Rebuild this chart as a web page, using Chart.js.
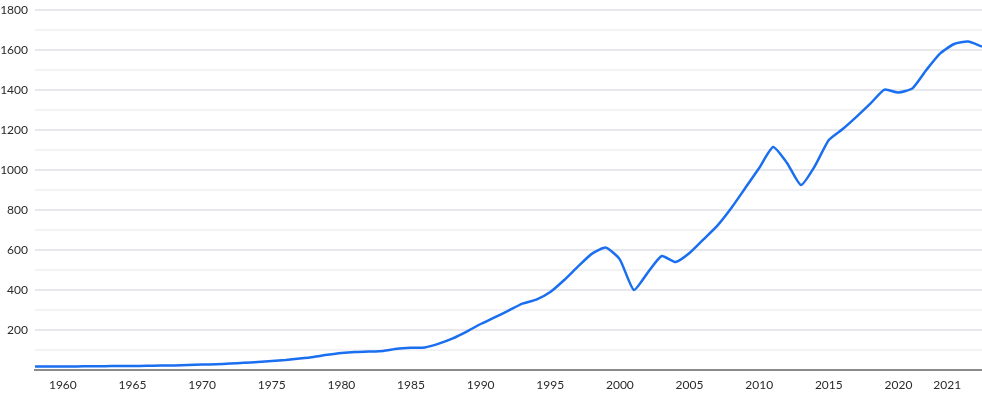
<!DOCTYPE html>
<html>
<head>
<meta charset="utf-8">
<script src="https://cdn.jsdelivr.net/npm/chart.js@4"></script>
<style>
    body { margin: 0; background: #fff; }
    #wrap { width: 982px; height: 395px; position: relative; }
</style>
</head>
<body>
<div id="wrap"><canvas id="graph"></canvas></div>
<script>
// yearly values
const years = [
    1958, 1959, 1960, 1961, 1962, 1963, 1964, 1965, 1966, 1967,
    1968, 1969, 1970, 1971, 1972, 1973, 1974, 1975, 1976, 1977,
    1978, 1979, 1980, 1981, 1982, 1983, 1984, 1985, 1986, 1987,
    1988, 1989, 1990, 1991, 1992, 1993, 1994, 1995, 1996, 1997,
    1998, 1999, 2000, 2001, 2002, 2003, 2004, 2005, 2006, 2007,
    2008, 2009, 2010, 2011, 2012, 2013, 2014, 2015, 2016, 2017,
    2018, 2019, 2020, 2021, 2022, 2023, 2024, 2025, 2026
]
const values = [
    17, 17, 18, 18, 19, 19, 20, 20, 21, 22,
    23, 25, 27, 29, 32, 36, 40, 45, 50, 57,
    65, 76, 85, 90, 92, 95, 106, 111, 113, 132,
    158, 192, 230, 263, 297, 332, 352, 390, 450, 518,
    582, 612, 552, 400, 487, 570, 540, 585, 653, 722,
    810, 910, 1010, 1115, 1035, 925, 1020, 1150, 1205, 1267,
    1333, 1402, 1387, 1408, 1500, 1583, 1630, 1642, 1617
]

// x axis labels as they appear under the chart
const xTickValues = [1960, 1965, 1970, 1975, 1980, 1985, 1990, 1995, 2000, 2005, 2010, 2015, 2020, 2023.5]
const xTickLabels = ['1960', '1965', '1970', '1975', '1980', '1985', '1990', '1995', '2000', '2005', '2010', '2015', '2020', '2021']

Chart.defaults.font.family = 'Lato, sans-serif'
Chart.defaults.font.size = 12
Chart.defaults.color = '#2a2a2a'

let points = years.map((y, i) => ({ x: y, y: values[i] }))

let ctx = document.getElementById('graph')
let chart = new Chart(ctx, {
    type: 'line',
    data: {
        datasets: [{
            data: points,
            borderColor: 'rgb(26, 110, 240)',
            borderWidth: 2.5,
            pointRadius: 0,
            tension: 0.18,
            fill: false
        }]
    },
    options: {
        responsive: true,
        maintainAspectRatio: false,
        animation: false,
        layout: { padding: 0 },
        scales: {
            x: {
                type: 'linear',
                min: years[0],
                max: years[years.length - 1],
                afterBuildTicks: scale => {
                    scale.ticks = xTickValues.map(v => ({ value: v }))
                },
                afterFit: scale => { scale.height = 25 },
                ticks: {
                    autoSkip: false,
                    maxRotation: 0,
                    padding: 8,
                    callback: (value, index) => xTickLabels[index]
                },
                grid: { display: false, drawTicks: false },
                border: { display: true, color: '#8a8a8a', width: 2 }
            },
            y: {
                min: 0,
                max: 1800,
                afterFit: scale => {
                    scale.width = 35
                    scale.paddingTop = 10 // top gridline sits 10px below the edge
                },
                ticks: {
                    stepSize: 100,
                    padding: 7,
                    callback: v => (v % 200 === 0 && v !== 0) ? v : ''
                },
                grid: {
                    drawTicks: false,
                    lineWidth: 2,
                    color: c => c.tick.value === 0 ? 'rgba(0,0,0,0)' : (c.tick.value % 200 === 0 ? '#e7e7ec' : '#f3f3f6')
                },
                border: { display: false }
            }
        },
        plugins: {
            legend: { display: false },
            tooltip: { enabled: false }
        }
    }
})
</script>
</body>
</html>
